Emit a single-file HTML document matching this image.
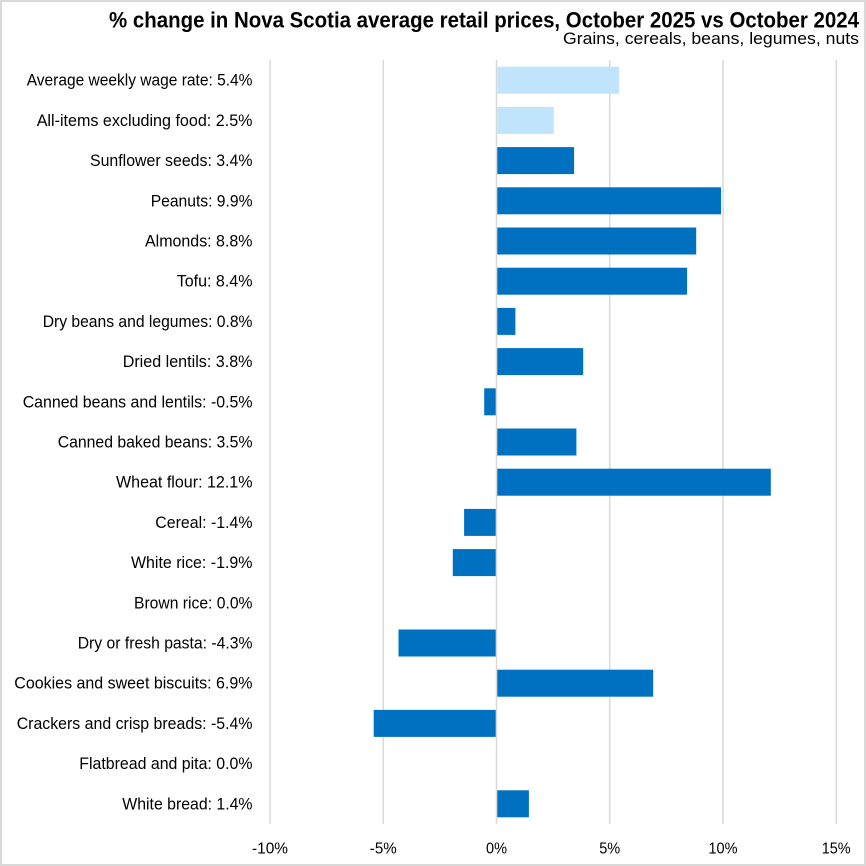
<!DOCTYPE html>
<html><head><meta charset="utf-8"><style>
html,body{margin:0;padding:0;background:#fff;}
svg{display:block;}
text{font-family:"Liberation Sans",sans-serif;fill:#000;}
.l{font-size:16.3px;text-anchor:end;}
.a{font-size:16px;text-anchor:middle;}
</style></head><body>
<svg width="866" height="866" viewBox="0 0 866 866" xmlns="http://www.w3.org/2000/svg">
<rect x="0" y="0" width="866" height="866" fill="#fff"/>
<rect x="1" y="1" width="864" height="864" fill="none" stroke="#d9d9d9" stroke-width="2"/>
<text x="109" y="27.5" font-size="22" font-weight="bold" textLength="750" lengthAdjust="spacingAndGlyphs">% change in Nova Scotia average retail prices, October 2025 vs October 2024</text>
<text x="563" y="44" font-size="16.5" textLength="296" lengthAdjust="spacingAndGlyphs">Grains, cereals, beans, legumes, nuts</text>
<g stroke="#d9d9d9" stroke-width="1.5">
<line x1="270" y1="60" x2="270" y2="824"/>
<line x1="383.3" y1="60" x2="383.3" y2="824"/>
<line x1="496.5" y1="60" x2="496.5" y2="824"/>
<line x1="609.7" y1="60" x2="609.7" y2="824"/>
<line x1="723" y1="60" x2="723" y2="824"/>
<line x1="836.2" y1="60" x2="836.2" y2="824"/>
</g>
<g>
<rect x="497.3" y="66.7" width="121.7" height="27" fill="#C1E4FD"/>
<rect x="497.3" y="106.9" width="56.5" height="27" fill="#C1E4FD"/>
<rect x="497.3" y="147.1" width="76.8" height="27" fill="#0070C0"/>
<rect x="497.3" y="187.3" width="223.7" height="27" fill="#0070C0"/>
<rect x="497.3" y="227.5" width="198.9" height="27" fill="#0070C0"/>
<rect x="497.3" y="267.7" width="189.8" height="27" fill="#0070C0"/>
<rect x="497.3" y="307.9" width="18.1" height="27" fill="#0070C0"/>
<rect x="497.3" y="348.1" width="85.9" height="27" fill="#0070C0"/>
<rect x="484.2" y="388.3" width="11.5" height="27" fill="#0070C0"/>
<rect x="497.3" y="428.5" width="79.1" height="27" fill="#0070C0"/>
<rect x="497.3" y="468.7" width="273.5" height="27" fill="#0070C0"/>
<rect x="464.1" y="508.9" width="31.6" height="27" fill="#0070C0"/>
<rect x="452.8" y="549.1" width="42.9" height="27" fill="#0070C0"/>
<rect x="398.5" y="629.5" width="97.2" height="27" fill="#0070C0"/>
<rect x="497.3" y="669.7" width="155.9" height="27" fill="#0070C0"/>
<rect x="373.7" y="709.9" width="122" height="27" fill="#0070C0"/>
<rect x="497.3" y="790.3" width="31.6" height="27" fill="#0070C0"/>
</g>
<g class="lab">
<text class="l" x="252.5" y="85.7" textLength="225.8" lengthAdjust="spacingAndGlyphs">Average weekly wage rate: 5.4%</text>
<text class="l" x="252.5" y="125.9" textLength="215.8" lengthAdjust="spacingAndGlyphs">All-items excluding food: 2.5%</text>
<text class="l" x="252.5" y="166.1" textLength="162.5" lengthAdjust="spacingAndGlyphs">Sunflower seeds: 3.4%</text>
<text class="l" x="252.5" y="206.3" textLength="101.8" lengthAdjust="spacingAndGlyphs">Peanuts: 9.9%</text>
<text class="l" x="252.5" y="246.5" textLength="107.5" lengthAdjust="spacingAndGlyphs">Almonds: 8.8%</text>
<text class="l" x="252.5" y="286.7" textLength="75.8" lengthAdjust="spacingAndGlyphs">Tofu: 8.4%</text>
<text class="l" x="252.5" y="326.9" textLength="209.8" lengthAdjust="spacingAndGlyphs">Dry beans and legumes: 0.8%</text>
<text class="l" x="252.5" y="367.1" textLength="129.8" lengthAdjust="spacingAndGlyphs">Dried lentils: 3.8%</text>
<text class="l" x="252.5" y="407.3" textLength="229.8" lengthAdjust="spacingAndGlyphs">Canned beans and lentils: -0.5%</text>
<text class="l" x="252.5" y="447.5" textLength="194.8" lengthAdjust="spacingAndGlyphs">Canned baked beans: 3.5%</text>
<text class="l" x="252.5" y="487.7" textLength="136.5" lengthAdjust="spacingAndGlyphs">Wheat flour: 12.1%</text>
<text class="l" x="252.5" y="527.9" textLength="97.2" lengthAdjust="spacingAndGlyphs">Cereal: -1.4%</text>
<text class="l" x="252.5" y="568.1" textLength="121.5" lengthAdjust="spacingAndGlyphs">White rice: -1.9%</text>
<text class="l" x="252.5" y="608.3" textLength="118.5" lengthAdjust="spacingAndGlyphs">Brown rice: 0.0%</text>
<text class="l" x="252.5" y="648.5" textLength="174.8" lengthAdjust="spacingAndGlyphs">Dry or fresh pasta: -4.3%</text>
<text class="l" x="252.5" y="688.7" textLength="238.2" lengthAdjust="spacingAndGlyphs">Cookies and sweet biscuits: 6.9%</text>
<text class="l" x="252.5" y="728.9" textLength="235.8" lengthAdjust="spacingAndGlyphs">Crackers and crisp breads: -5.4%</text>
<text class="l" x="252.5" y="769.1" textLength="173.2" lengthAdjust="spacingAndGlyphs">Flatbread and pita: 0.0%</text>
<text class="l" x="252.5" y="809.3" textLength="130.2" lengthAdjust="spacingAndGlyphs">White bread: 1.4%</text>
</g>
<g>
<text class="a" x="270" y="853.5" textLength="36" lengthAdjust="spacingAndGlyphs">-10%</text>
<text class="a" x="383.3" y="853.5" textLength="27" lengthAdjust="spacingAndGlyphs">-5%</text>
<text class="a" x="496.5" y="853.5" textLength="21" lengthAdjust="spacingAndGlyphs">0%</text>
<text class="a" x="609.7" y="853.5" textLength="21" lengthAdjust="spacingAndGlyphs">5%</text>
<text class="a" x="723" y="853.5" textLength="29" lengthAdjust="spacingAndGlyphs">10%</text>
<text class="a" x="836.2" y="853.5" textLength="29" lengthAdjust="spacingAndGlyphs">15%</text>
</g>
</svg>
</body></html>
